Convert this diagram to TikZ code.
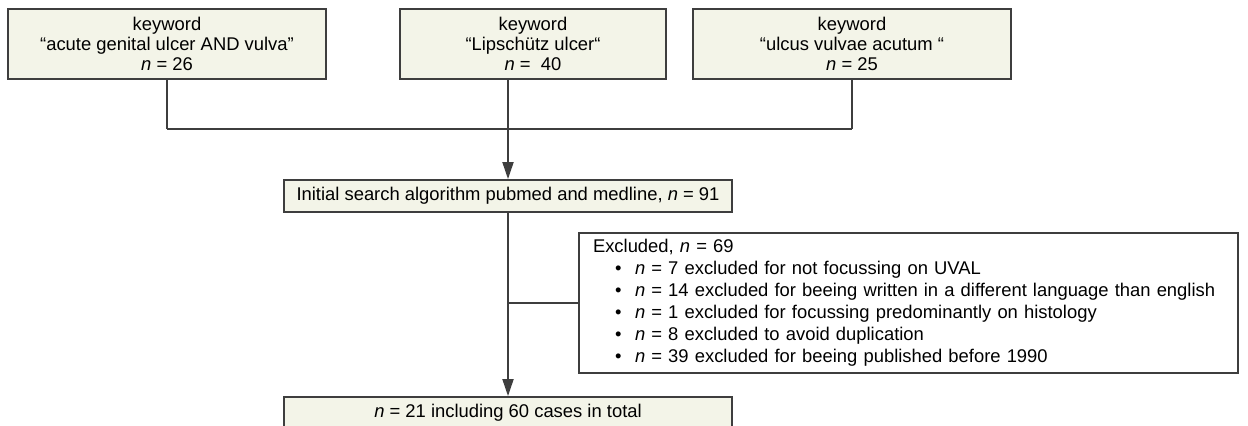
\documentclass[tikz,border=0pt]{standalone}
\usepackage{xcolor}
\usepackage{fontspec}
\setmainfont{Liberation Sans}
\usepackage{tikz}
\usetikzlibrary{arrows.meta}

\definecolor{boxfill}{RGB}{243,244,232}
\definecolor{linegray}{RGB}{62,62,62}

\begin{document}
\begin{tikzpicture}[x=0.5pt,y=-0.5pt,
    box/.style={draw=linegray,line width=0.9pt,fill=boxfill,inner sep=0pt,
      align=center,font=\fontsize{9.2}{10}\selectfont},
    link/.style={draw=linegray,line width=0.9pt},
    arrow/.style={link,-{Triangle[length=8.5pt,width=5.5pt]}}]
  \useasboundingbox (0,0) rectangle (1248,426);
  % keyword boxes
  \node [box,minimum width=159pt,minimum height=35pt] (k1) at (167,44)
    {keyword\\“acute genital ulcer AND vulva”\\\textit{n} = 26};
  \node [box,minimum width=133pt,minimum height=35pt] (k2) at (533,44)
    {keyword\\“Lipschütz ulcer“\\\textit{n} = \ 40};
  \node [box,minimum width=159pt,minimum height=35pt] (k3) at (852,44)
    {keyword\\“ulcus vulvae acutum “\\\textit{n} = 25};
  % search and result
  \node [box,minimum width=224pt,minimum height=16pt] (init) at (508,196)
    {Initial search algorithm pubmed and medline, \textit{n} = 91};
  \node [box,minimum width=224pt,minimum height=16pt] (final) at (508,413)
    {\textit{n} = 21 including 60 cases in total};
  \node [box,fill=white,inner xsep=7pt,minimum height=70pt,text width=315.5pt,
    align=left,font=\fontsize{9.2}{11}\selectfont] (excl) at (908.5,303)
    {Excluded, \textit{n} = 69\\
     \hspace*{11pt}\makebox[10pt][l]{\textbullet}\textit{n} = 7 excluded for not focussing on UVAL\\
     \hspace*{11pt}\makebox[10pt][l]{\textbullet}\textit{n} = 14 excluded for beeing written in a different language than english\\
     \hspace*{11pt}\makebox[10pt][l]{\textbullet}\textit{n} = 1 excluded for focussing predominantly on histology\\
     \hspace*{11pt}\makebox[10pt][l]{\textbullet}\textit{n} = 8 excluded to avoid duplication\\
     \hspace*{11pt}\makebox[10pt][l]{\textbullet}\textit{n} = 39 excluded for beeing published before 1990};
  \coordinate (join) at (508,129);

  \foreach \k in {k1,k3}
    \draw [link] (\k.south) -- (\k.south |- join);
  \draw [link] (k1.south |- join) -- (k3.south |- join);
  \draw [arrow] (k2.south -| init.north) -- (init.north);
  \draw [arrow] (init.south) -- (final.north);
  \draw [link] (init.south |- excl.west) -- (excl.west);
\end{tikzpicture}
\end{document}
